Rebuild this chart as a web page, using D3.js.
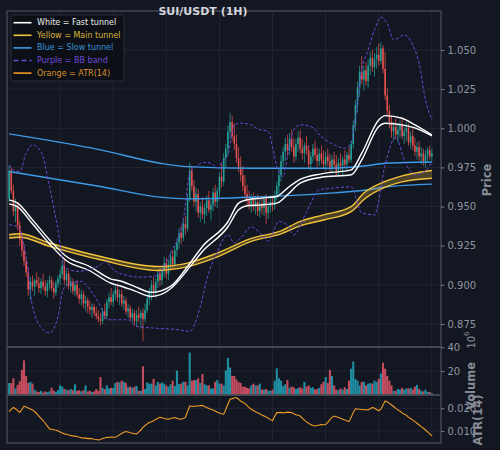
<!DOCTYPE html>
<html><head><meta charset="utf-8">
<script src="https://cdn.jsdelivr.net/npm/d3@7"></script>
<style>
html,body{margin:0;padding:0;background:#131722;}
svg{display:block;font-family:"DejaVu Sans",sans-serif;}
</style></head><body>
<svg id="chart" width="500" height="450"></svg>
<script>
// ---------------- DATA ----------------
const chartTitle = "SUI/USDT (1H)";
const open = [0.955,0.973,0.960,0.947,0.951,0.938,0.929,0.922,0.915,0.908,
0.897,0.902,0.899,0.903,0.901,0.898,0.902,0.899,0.896,0.901,
0.903,0.898,0.895,0.901,0.904,0.907,0.912,0.903,0.907,0.899,
0.902,0.896,0.900,0.894,0.891,0.894,0.888,0.890,0.886,0.884,
0.886,0.882,0.880,0.878,0.877,0.883,0.880,0.889,0.892,0.889,
0.894,0.897,0.892,0.894,0.888,0.890,0.883,0.885,0.879,0.882,
0.877,0.881,0.879,0.882,0.878,0.884,0.891,0.895,0.900,0.896,
0.902,0.907,0.903,0.909,0.914,0.907,0.913,0.918,0.913,0.922,
0.927,0.933,0.930,0.939,0.936,0.955,0.973,0.963,0.953,0.958,
0.946,0.950,0.945,0.949,0.954,0.948,0.951,0.959,0.953,0.960,
0.969,0.966,0.981,0.987,0.998,1.004,0.995,0.990,0.981,0.975,
0.970,0.963,0.958,0.954,0.951,0.955,0.950,0.953,0.947,0.952,
0.949,0.955,0.946,0.950,0.953,0.951,0.957,0.963,0.970,0.979,
0.985,0.990,0.986,0.993,0.988,0.982,0.990,0.994,0.987,0.984,
0.989,0.986,0.977,0.982,0.987,0.983,0.979,0.984,0.980,0.977,
0.982,0.979,0.975,0.980,0.977,0.973,0.978,0.976,0.980,0.977,
0.983,0.980,0.990,1.002,1.015,1.026,1.036,1.031,1.037,1.030,
1.040,1.045,1.039,1.044,1.047,1.043,1.051,1.038,1.021,1.011,
1.004,0.998,1.001,0.996,0.999,1.002,0.995,0.998,1.000,0.991,
0.995,0.989,0.985,0.988,0.982,0.984,0.979,0.983,0.986,0.982];
const high = [0.976,0.975,0.964,0.955,0.953,0.941,0.934,0.926,0.918,0.911,
0.905,0.906,0.904,0.908,0.905,0.904,0.907,0.903,0.903,0.906,
0.905,0.902,0.903,0.906,0.910,0.915,0.916,0.910,0.909,0.905,
0.904,0.902,0.903,0.898,0.897,0.896,0.893,0.892,0.890,0.888,
0.888,0.886,0.884,0.882,0.885,0.888,0.891,0.895,0.898,0.896,
0.900,0.901,0.897,0.897,0.893,0.892,0.888,0.887,0.885,0.884,
0.884,0.886,0.884,0.885,0.888,0.894,0.898,0.903,0.905,0.904,
0.910,0.911,0.912,0.918,0.917,0.916,0.921,0.922,0.925,0.930,
0.936,0.938,0.942,0.944,0.958,0.978,0.976,0.967,0.962,0.961,
0.953,0.956,0.952,0.957,0.960,0.954,0.962,0.964,0.962,0.972,
0.978,0.984,0.990,1.002,1.010,1.008,1.003,0.996,0.988,0.982,
0.976,0.970,0.964,0.960,0.958,0.959,0.957,0.958,0.955,0.956,
0.957,0.958,0.953,0.956,0.957,0.960,0.966,0.974,0.983,0.988,
0.994,0.996,0.997,0.999,0.994,0.993,0.998,0.999,0.993,0.991,
0.995,0.989,0.985,0.990,0.992,0.988,0.987,0.989,0.986,0.985,
0.987,0.984,0.983,0.985,0.983,0.981,0.984,0.982,0.986,0.985,
0.988,0.992,1.005,1.018,1.030,1.040,1.046,1.040,1.042,1.044,
1.049,1.050,1.048,1.052,1.054,1.055,1.053,1.049,1.026,1.015,
1.008,1.004,1.006,1.003,1.005,1.006,1.001,1.004,1.003,0.998,
1.000,0.994,0.991,0.992,0.988,0.987,0.986,0.988,0.989,0.987];
const low = [0.953,0.958,0.944,0.940,0.935,0.925,0.918,0.912,0.905,0.893,
0.890,0.896,0.893,0.899,0.895,0.894,0.897,0.893,0.892,0.897,
0.896,0.891,0.893,0.898,0.900,0.904,0.900,0.899,0.897,0.895,
0.894,0.893,0.892,0.888,0.887,0.885,0.883,0.882,0.881,0.879,
0.880,0.878,0.876,0.874,0.875,0.878,0.878,0.885,0.887,0.886,
0.890,0.889,0.887,0.886,0.884,0.881,0.879,0.877,0.876,0.874,
0.873,0.876,0.872,0.864,0.876,0.882,0.887,0.890,0.893,0.892,
0.898,0.899,0.900,0.905,0.904,0.903,0.909,0.910,0.911,0.918,
0.923,0.926,0.928,0.932,0.934,0.953,0.960,0.950,0.947,0.943,
0.940,0.942,0.939,0.944,0.946,0.941,0.947,0.950,0.949,0.956,
0.962,0.963,0.975,0.983,0.993,0.992,0.986,0.978,0.972,0.966,
0.960,0.955,0.950,0.948,0.946,0.947,0.945,0.944,0.943,0.945,
0.944,0.939,0.942,0.946,0.947,0.948,0.954,0.958,0.966,0.974,
0.979,0.982,0.983,0.985,0.978,0.979,0.985,0.984,0.980,0.978,
0.983,0.974,0.973,0.978,0.980,0.975,0.976,0.977,0.974,0.973,
0.976,0.972,0.971,0.974,0.970,0.970,0.973,0.970,0.975,0.973,
0.978,0.978,0.987,0.998,1.010,1.020,1.028,1.024,1.027,1.026,
1.034,1.036,1.033,1.038,1.040,1.041,1.035,1.018,1.008,1.000,
0.994,0.992,0.993,0.991,0.994,0.993,0.990,0.992,0.989,0.987,
0.986,0.982,0.980,0.979,0.977,0.976,0.975,0.978,0.980,0.979];
const close = [0.973,0.960,0.947,0.951,0.938,0.929,0.922,0.915,0.908,0.897,
0.902,0.899,0.903,0.901,0.898,0.902,0.899,0.896,0.901,0.903,
0.898,0.895,0.901,0.904,0.907,0.912,0.903,0.907,0.899,0.902,
0.896,0.900,0.894,0.891,0.894,0.888,0.890,0.886,0.884,0.886,
0.882,0.880,0.878,0.877,0.883,0.880,0.889,0.892,0.889,0.894,
0.897,0.892,0.894,0.888,0.890,0.883,0.885,0.879,0.882,0.877,
0.881,0.879,0.882,0.878,0.884,0.891,0.895,0.900,0.896,0.902,
0.907,0.903,0.909,0.914,0.907,0.913,0.918,0.913,0.922,0.927,
0.933,0.930,0.939,0.936,0.955,0.973,0.963,0.953,0.958,0.946,
0.950,0.945,0.949,0.954,0.948,0.951,0.959,0.953,0.960,0.969,
0.966,0.981,0.987,0.998,1.004,0.995,0.990,0.981,0.975,0.970,
0.963,0.958,0.954,0.951,0.955,0.950,0.953,0.947,0.952,0.949,
0.955,0.946,0.950,0.953,0.951,0.957,0.963,0.970,0.979,0.985,
0.990,0.986,0.993,0.988,0.982,0.990,0.994,0.987,0.984,0.989,
0.986,0.977,0.982,0.987,0.983,0.979,0.984,0.980,0.977,0.982,
0.979,0.975,0.980,0.977,0.973,0.978,0.976,0.980,0.977,0.983,
0.980,0.990,1.002,1.015,1.026,1.036,1.031,1.037,1.030,1.040,
1.045,1.039,1.044,1.047,1.043,1.051,1.038,1.021,1.011,1.004,
0.998,1.001,0.996,0.999,1.002,0.995,0.998,1.000,0.991,0.995,
0.989,0.985,0.988,0.982,0.984,0.979,0.983,0.986,0.982,0.984];
// volume in millions (axis offset 10^6)
const volumeM = [10,10,14,5.5,8.5,11.5,21,29,16,10,
11,9.5,4.5,3,2.5,3.5,2,3,2.5,3,
6,3.5,2.5,4,8,7,5,4.5,4,5,
4,9,3.5,4,3,4,8,3,3.5,2.5,
3,5,3.5,15,6,5,8,5.5,6,6,
10,11,10.5,12,11,10,6.5,7,6,7,
7.5,3.5,3.5,24,5,10.5,9.5,9.5,13.5,8,
11,9.5,10.5,9.5,8,7,9,12,7.5,20.5,
9,9.5,11,11,8,35.5,12,12.5,12.5,14,
10,17.5,9,8,8,5.5,5.5,11,12.5,9.5,
9.5,8,20.5,31,23,16,16,13,11,10,
7,7,6,5.5,8,9.5,8,8,9.5,4.5,
4.5,5,3.5,3.5,4.5,12,22.3,14,12,7.5,
9,12.5,6,7,6.5,5,5.7,6.5,5.5,11,
7,8,6,6.5,4.5,5,6,9,11,15,
10,21,16,8,4.5,4,5.5,4.5,6.5,5,
12,22,28,13.5,12,8,11,11,8,9.5,
10,9.5,12,11,13.5,18,27,22,16,12,
8,3.5,3.5,5,4.5,6,4.5,5.5,5.5,6,
4.5,7,8.5,5,3.5,3,4.5,2.5,2.5,1.5];
const atr14 = [0.0185,0.0195,0.0204,0.0198,0.0190,0.0182,0.0195,0.0210,0.0206,0.0201,
0.0197,0.0193,0.0185,0.0176,0.0166,0.0156,0.0146,0.0134,0.0121,0.0109,
0.0107,0.0105,0.0104,0.0100,0.0095,0.0091,0.0087,0.0085,0.0082,0.0080,
0.0078,0.0077,0.0075,0.0072,0.0070,0.0068,0.0068,0.0066,0.0067,0.0065,
0.0063,0.0062,0.0060,0.0062,0.0066,0.0069,0.0072,0.0071,0.0073,0.0072,
0.0072,0.0077,0.0083,0.0089,0.0094,0.0097,0.0095,0.0092,0.0090,0.0088,
0.0087,0.0095,0.0104,0.0116,0.0124,0.0131,0.0137,0.0141,0.0145,0.0151,
0.0156,0.0160,0.0158,0.0155,0.0153,0.0152,0.0155,0.0157,0.0159,0.0156,
0.0153,0.0152,0.0155,0.0160,0.0186,0.0210,0.0209,0.0208,0.0210,0.0210,
0.0212,0.0213,0.0208,0.0204,0.0199,0.0196,0.0193,0.0188,0.0183,0.0179,
0.0176,0.0174,0.0195,0.0218,0.0240,0.0243,0.0246,0.0248,0.0240,0.0232,
0.0227,0.0222,0.0212,0.0203,0.0196,0.0190,0.0185,0.0180,0.0176,0.0170,
0.0166,0.0162,0.0156,0.0150,0.0145,0.0165,0.0181,0.0181,0.0182,0.0180,
0.0181,0.0183,0.0182,0.0181,0.0176,0.0172,0.0169,0.0166,0.0157,0.0148,
0.0140,0.0134,0.0128,0.0124,0.0122,0.0124,0.0126,0.0128,0.0127,0.0128,
0.0138,0.0150,0.0160,0.0166,0.0163,0.0159,0.0156,0.0152,0.0148,0.0145,
0.0141,0.0160,0.0182,0.0198,0.0197,0.0196,0.0195,0.0194,0.0194,0.0193,
0.0198,0.0204,0.0200,0.0195,0.0189,0.0196,0.0215,0.0233,0.0229,0.0222,
0.0215,0.0208,0.0200,0.0193,0.0187,0.0180,0.0174,0.0170,0.0160,0.0155,
0.0148,0.0141,0.0134,0.0126,0.0119,0.0112,0.0104,0.0096,0.0087,0.0078];

// indicator lines, read at candle indices
const fastIdx = [0,4,11,19,27,38,48,52,59,67,76,84,91,103,108,112,119,126,131,137,147,161,166,174,177,185,191,199];
const fastUpper = [0.9543,0.9522,0.9415,0.9288,0.9181,0.9117,0.9037,0.9026,0.8990,0.8952,0.8990,0.9117,0.9245,0.9403,0.9522,0.9543,0.9554,0.9564,0.9618,0.9673,0.9709,0.9734,0.9841,1.0053,1.0081,1.0064,1.0022,0.9958];
const fastLower = [0.9517,0.9498,0.9390,0.9262,0.9154,0.9090,0.9010,0.8994,0.8962,0.8926,0.8975,0.9096,0.9213,0.9371,0.9479,0.9505,0.9511,0.9522,0.9575,0.9650,0.9687,0.9703,0.9798,1.0011,1.0032,1.0022,1.0002,0.9951];
const mainIdx = [0,5,19,43,70,84,98,114,128,137,148,161,167,177,185,199];
const mainUpper = [0.9320,0.9326,0.9267,0.9181,0.9117,0.9139,0.9203,0.9297,0.9345,0.9405,0.9447,0.9500,0.9586,0.9660,0.9696,0.9730];
const mainLower = [0.9299,0.9304,0.9246,0.9160,0.9092,0.9116,0.9179,0.9278,0.9326,0.9377,0.9414,0.9468,0.9545,0.9624,0.9658,0.9681];
const slowIdx = [0,43,71,84,114,151,169,177,199];
const slowUpper = [0.9964,0.9862,0.9777,0.9755,0.9745,0.9745,0.9762,0.9777,0.9785];
const slowLower = [0.9724,0.9628,0.9560,0.9549,0.9559,0.9586,0.9607,0.9624,0.9643];
const bbUpIdx = [0,2,5,8,11,15,19,23,26,32,43,45,50,62,68,73,76,82,85,87,92,95,98,101,103,106,109,114,117,122,124,126,129,131,134,137,142,147,153,158,161,163,166,169,172,175,178,181,186,190,193,196,199];
const bbUpper = [0.9766,0.9734,0.9724,0.9841,0.9894,0.9851,0.9628,0.9352,0.9117,0.9086,0.9128,0.9149,0.9086,0.9049,0.9054,0.9117,0.9203,0.9415,0.9713,0.9745,0.9782,0.9777,0.9747,0.9798,0.9830,1.0022,1.0032,1.0022,0.9995,0.9979,0.9881,0.9755,0.9692,0.9819,0.9990,1.0022,1.0011,0.9947,0.9894,0.9873,0.9905,1.0066,1.0372,1.0500,1.0628,1.0709,1.0670,1.0564,1.0596,1.0532,1.0415,1.0181,1.0053];
const bbLoIdx = [0,4,8,11,16,19,23,25,27,34,38,43,46,56,60,68,79,85,90,93,98,103,106,109,114,118,122,127,131,134,140,146,154,161,166,172,177,182,186,191,196,199];
const bbLower = [0.9384,0.9371,0.9181,0.8862,0.8714,0.8693,0.8798,0.8948,0.9001,0.9022,0.8969,0.8862,0.8777,0.8777,0.8735,0.8724,0.8714,0.8703,0.8862,0.9032,0.9213,0.9320,0.9267,0.9299,0.9371,0.9333,0.9280,0.9405,0.9380,0.9320,0.9466,0.9607,0.9620,0.9626,0.9460,0.9447,0.9766,0.9945,0.9798,0.9703,0.9728,0.9785];

const priceTicks = [0.875,0.900,0.925,0.950,0.975,1.000,1.025,1.050];
const volTicks = [20,40];
const atrTicks = [0.010,0.020];
const xGridTicks = [25,50,75,100,125,150,175,200];
const legendItems = [
  {label:"White = Fast tunnel", key:"fast"},
  {label:"Yellow = Main tunnel", key:"main"},
  {label:"Blue = Slow tunnel", key:"slow"},
  {label:"Purple = BB band", key:"bb"},
  {label:"Orange = ATR(14)", key:"atr"}
];

// ---------------- STYLE ----------------
const C = {
  bg:"#131722", grid:"#252a35", spine:"#474c57", tick:"#8f949e", label:"#868b95",
  up:"#26a69a", down:"#ef5350", volUp:"#22a3b8", volDown:"#e3566a",
  fast:"#ffffff", main:"#f2c23a", slow:"#3d9be9", bb:"#6c48d8", atr:"#f39c26"
};
const legendText = {fast:"#ececec", main:"#d9b43a", slow:"#3a92d6", bb:"#6f49d6", atr:"#dc8f2a"};

const L = 7, R = 441;
const pTop = 11, pBot = 347, vTop = 347, vBot = 395, aTop = 395, aBot = 443;

const svg = d3.select("#chart");
svg.append("rect").attr("width",500).attr("height",450).attr("fill",C.bg);

const x = d3.scaleLinear().domain([0, 204.3]).range([L, R]);
const xi = i => x(i + 1);
const yP = d3.scaleLinear().domain([0.8603, 1.0749]).range([pBot, pTop]);
const yV = d3.scaleLinear().domain([0, 40.2]).range([vBot, vTop]);
const yA = d3.scaleLinear().domain([0.00465, 0.0259]).range([aBot, aTop]);

const defs = svg.append("defs");
[["cp",pTop,pBot],["cv",vTop,vBot],["ca",aTop,aBot]].forEach(([id,t,b])=>{
  defs.append("clipPath").attr("id",id).append("rect").attr("x",L).attr("y",t).attr("width",R-L).attr("height",b-t);
});

// grids
function grid(yScale, ticks, t, b) {
  const g = svg.append("g");
  g.selectAll("line.v").data(xGridTicks).join("line")
    .attr("x1",d=>x(d)).attr("x2",d=>x(d)).attr("y1",t).attr("y2",b)
    .attr("stroke",C.grid).attr("stroke-width",0.8);
  g.selectAll("line.h").data(ticks).join("line")
    .attr("x1",L).attr("x2",R).attr("y1",d=>yScale(d)).attr("y2",d=>yScale(d))
    .attr("stroke",C.grid).attr("stroke-width",0.8);
}
grid(yP, priceTicks, pTop, pBot);
grid(yV, volTicks, vTop, vBot);
grid(yA, atrTicks, aTop, aBot);

// candles
const idx = d3.range(close.length);
const gc = svg.append("g").attr("clip-path","url(#cp)");
gc.selectAll("line.w").data(idx).join("line")
  .attr("x1",i=>xi(i)).attr("x2",i=>xi(i))
  .attr("y1",i=>yP(high[i])).attr("y2",i=>yP(low[i]))
  .attr("stroke",i=>close[i]>=open[i]?C.up:C.down).attr("stroke-width",0.8).attr("opacity",0.9);
gc.selectAll("rect.b").data(idx).join("rect")
  .attr("x",i=>xi(i)-0.8).attr("width",1.6)
  .attr("y",i=>yP(Math.max(open[i],close[i])))
  .attr("height",i=>Math.max(0.6, Math.abs(yP(open[i])-yP(close[i]))))
  .attr("fill",i=>close[i]>=open[i]?C.up:C.down).attr("opacity",0.9);

// indicator lines
function lineOf(idxArr, vals) {
  return d3.line().x((d,k)=>xi(idxArr[k])).y(d=>yP(d)).curve(d3.curveMonotoneX)(vals);
}
const gl = svg.append("g").attr("clip-path","url(#cp)");
[slowUpper, slowLower].forEach(v=>gl.append("path").attr("d",lineOf(slowIdx,v))
  .attr("fill","none").attr("stroke",C.slow).attr("stroke-width",1.4));
// main tunnel band
const area = d3.area().x((d,k)=>xi(mainIdx[k])).y0((d,k)=>yP(mainLower[k])).y1(d=>yP(d)).curve(d3.curveMonotoneX);
gl.append("path").attr("d",area(mainUpper)).attr("fill",C.main).attr("opacity",0.25);
[mainUpper, mainLower].forEach(v=>gl.append("path").attr("d",lineOf(mainIdx,v))
  .attr("fill","none").attr("stroke",C.main).attr("stroke-width",1.4));
[fastUpper, fastLower].forEach(v=>gl.append("path").attr("d",lineOf(fastIdx,v))
  .attr("fill","none").attr("stroke",C.fast).attr("stroke-width",1.4));
gl.append("path").attr("d",lineOf(bbUpIdx,bbUpper)).attr("fill","none")
  .attr("stroke",C.bb).attr("stroke-width",1).attr("stroke-dasharray","3,2");
gl.append("path").attr("d",lineOf(bbLoIdx,bbLower)).attr("fill","none")
  .attr("stroke",C.bb).attr("stroke-width",1).attr("stroke-dasharray","3,2");

// volume
const gv = svg.append("g").attr("clip-path","url(#cv)");
gv.selectAll("rect").data(idx).join("rect")
  .attr("x",i=>xi(i)-1.05).attr("width",2.1)
  .attr("y",i=>yV(volumeM[i])).attr("height",i=>yV(0)-yV(volumeM[i]))
  .attr("fill",i=>close[i]>=open[i]?C.volUp:C.volDown).attr("opacity",0.85);

// ATR
const ga = svg.append("g").attr("clip-path","url(#ca)");
ga.append("path").attr("d",d3.line().x((d,i)=>xi(i)).y(d=>yA(d))(atr14))
  .attr("fill","none").attr("stroke",C.atr).attr("stroke-width",1.1);

// spines
[[pTop,pBot],[vTop,vBot],[aTop,aBot]].forEach(([t,b])=>{
  svg.append("rect").attr("x",L).attr("y",t).attr("width",R-L).attr("height",b-t)
    .attr("fill","none").attr("stroke",C.spine).attr("stroke-width",1.3);
});

// right axes
function rightAxis(scale, ticks, fmt) {
  const ax = d3.axisRight(scale).tickValues(ticks).tickSize(3.5).tickPadding(3).tickFormat(fmt);
  const g = svg.append("g").attr("transform",`translate(${R},0)`).call(ax);
  g.select(".domain").remove();
  g.selectAll(".tick line").attr("stroke",C.tick).attr("stroke-width",0.8);
  g.selectAll(".tick text").attr("fill",C.tick).attr("font-size",10).attr("font-family","DejaVu Sans");
}
rightAxis(yP, priceTicks, d3.format(".3f"));
rightAxis(yV, volTicks, d3.format("d"));
rightAxis(yA, atrTicks, d3.format(".3f"));

// axis titles
function vlabel(txt, cx, cy, size, bold) {
  return svg.append("text").attr("transform",`translate(${cx},${cy}) rotate(-90)`)
    .attr("text-anchor","middle").attr("dominant-baseline","central")
    .attr("font-size",size).attr("font-weight",bold?"bold":"normal")
    .attr("fill",C.label).text(txt);
}
vlabel("Price", 487, 180, 11.5, true);
vlabel("ATR(14)", 478, 420, 11.5, true);
vlabel("Volume", 471, 386, 11.5, true);
const off = svg.append("text").attr("transform","translate(471,340) rotate(-90)")
  .attr("text-anchor","middle").attr("dominant-baseline","central")
  .attr("font-size",10).attr("fill",C.tick);
off.append("tspan").text("10");
off.append("tspan").attr("font-size",7).attr("dy",-4).text("6");

// legend
const lg = svg.append("g");
lg.append("rect").attr("x",11).attr("y",15).attr("width",113).attr("height",66).attr("rx",2)
  .attr("fill","#0c0f15").attr("fill-opacity",0.9).attr("stroke","#30343e").attr("stroke-width",0.8);
legendItems.forEach((d,k)=>{
  const yy = 22.7 + k*12.6;
  lg.append("line").attr("x1",13.5).attr("x2",31.5).attr("y1",yy).attr("y2",yy)
    .attr("stroke",C[d.key]).attr("stroke-width",1.6)
    .attr("stroke-dasharray", d.key==="bb" ? "5,3" : null);
  lg.append("text").attr("x",37).attr("y",yy).attr("dominant-baseline","central")
    .attr("font-size",8).attr("fill",legendText[d.key]).text(d.label);
});

// title
svg.append("text").attr("x",203).attr("y",11).attr("text-anchor","middle").attr("dominant-baseline","central")
  .attr("font-size",11).attr("font-weight","bold").attr("fill","#d3d6dc").text(chartTitle);
</script>
</body></html>
